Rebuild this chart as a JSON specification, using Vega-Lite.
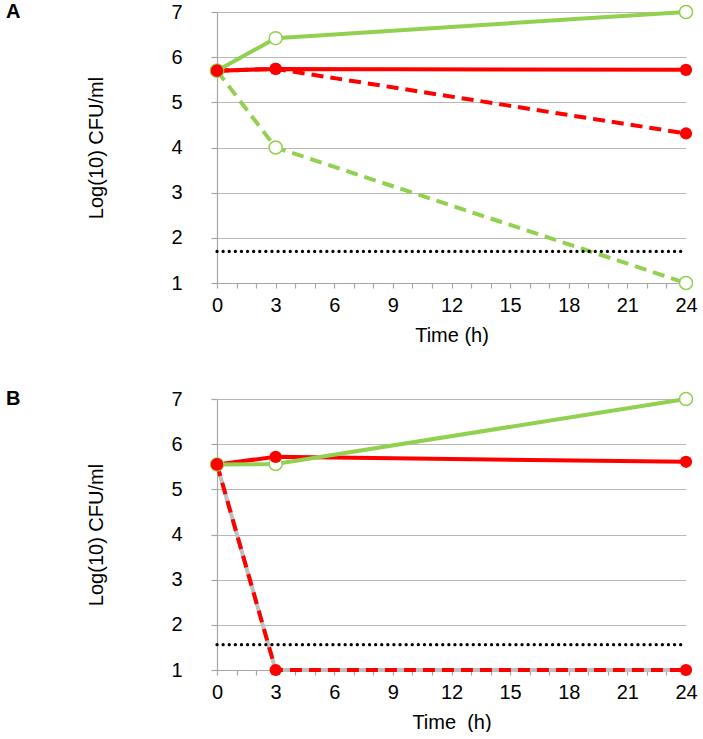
{
  "$schema": "https://vega.github.io/schema/vega-lite/v6.json",
  "padding": {"left": 6, "top": 2, "right": 0, "bottom": 0},
  "background": "white",
  "datasets": {
    "curves": [
      {"panel": "A", "series": "Grey", "time": 0, "value": 5.7},
      {"panel": "A", "series": "Grey", "time": 3, "value": 5.74},
      {"panel": "A", "series": "Red dashed", "time": 0, "value": 5.7},
      {"panel": "A", "series": "Red dashed", "time": 3, "value": 5.74},
      {"panel": "A", "series": "Red dashed", "time": 24, "value": 4.31},
      {"panel": "A", "series": "Red solid", "time": 0, "value": 5.7},
      {"panel": "A", "series": "Red solid", "time": 3, "value": 5.74},
      {"panel": "A", "series": "Red solid", "time": 24, "value": 5.72},
      {"panel": "A", "series": "Green dashed", "time": 0, "value": 5.7},
      {"panel": "A", "series": "Green dashed", "time": 3, "value": 4.0},
      {"panel": "A", "series": "Green dashed", "time": 24, "value": 1.0},
      {"panel": "A", "series": "Green solid", "time": 0, "value": 5.7},
      {"panel": "A", "series": "Green solid", "time": 3, "value": 6.42},
      {"panel": "A", "series": "Green solid", "time": 24, "value": 7.0},
      {"panel": "A", "series": "Detection limit", "time": 0, "value": 1.7},
      {"panel": "A", "series": "Detection limit", "time": 24, "value": 1.7},
      {"panel": "B", "series": "Grey", "time": 0, "value": 5.55},
      {"panel": "B", "series": "Grey", "time": 3, "value": 1.0},
      {"panel": "B", "series": "Grey", "time": 24, "value": 1.0},
      {"panel": "B", "series": "Red dashed", "time": 0, "value": 5.55},
      {"panel": "B", "series": "Red dashed", "time": 3, "value": 1.0},
      {"panel": "B", "series": "Red dashed", "time": 24, "value": 1.0},
      {"panel": "B", "series": "Red solid", "time": 0, "value": 5.55},
      {"panel": "B", "series": "Red solid", "time": 3, "value": 5.72},
      {"panel": "B", "series": "Red solid", "time": 24, "value": 5.61},
      {"panel": "B", "series": "Green solid", "time": 0, "value": 5.55},
      {"panel": "B", "series": "Green solid", "time": 3, "value": 5.56},
      {"panel": "B", "series": "Green solid", "time": 24, "value": 7.0},
      {"panel": "B", "series": "Detection limit", "time": 0, "value": 1.56},
      {"panel": "B", "series": "Detection limit", "time": 24, "value": 1.56}
    ]
  },
  "config": {
    "view": {"stroke": null},
    "font": "Liberation Sans",
    "axis": {
      "labelFont": "Liberation Sans",
      "titleFont": "Liberation Sans",
      "labelFontSize": 20,
      "titleFontSize": 20,
      "titleFontWeight": "normal",
      "labelColor": "black",
      "titleColor": "black",
      "domainColor": "#A6A6A6",
      "tickColor": "#A6A6A6",
      "gridColor": "#B8B8B8",
      "domainWidth": 1.2,
      "tickWidth": 1.2
    },
    "title": {"font": "Liberation Sans", "fontSize": 20, "fontWeight": "bold", "color": "black"}
  },
  "spacing": 44,
  "vconcat": [
    {
      "width": 469,
      "height": 271,
      "title": {"text": "A", "anchor": "start", "frame": "group", "dx": -211, "dy": 24, "baseline": "top"},
      "data": {"name": "curves"},
      "transform": [{"filter": "datum.panel == 'A'"}],
      "encoding": {
        "x": {"field": "time", "type": "quantitative", "scale": {"domain": [0, 24], "nice": false},
          "axis": {"title": "Time (h)", "values": [0,1,2,3,4,5,6,7,8,9,10,11,12,13,14,15,16,17,18,19,20,21,22,23,24],
            "labelExpr": "datum.value % 3 == 0 ? datum.label : ''", "grid": false, "tickSize": 5, "labelPadding": 7, "titlePadding": 10, "labelFlush": false, "labelOverlap": false}},
        "y": {"field": "value", "type": "quantitative", "scale": {"domain": [1, 7], "nice": false},
          "axis": {"title": "Log(10) CFU/ml", "values": [1,2,3,4,5,6,7], "grid": true, "tickSize": 6, "labelPadding": 29, "titlePadding": 64}}
      },
      "layer": [
        {"transform": [{"filter": "datum.series == 'Grey'"}], "mark": {"type": "line", "color": "#BFBFBF", "strokeWidth": 4}},
        {"transform": [{"filter": "datum.series == 'Red dashed'"}], "mark": {"type": "line", "color": "#FF0000", "strokeWidth": 4, "strokeDash": [12, 7]}},
        {"transform": [{"filter": "datum.series == 'Red solid'"}], "mark": {"type": "line", "color": "#FF0000", "strokeWidth": 4}},
        {"transform": [{"filter": "datum.series == 'Green dashed'"}], "mark": {"type": "line", "color": "#92D050", "strokeWidth": 4, "strokeDash": [12, 7]}},
        {"transform": [{"filter": "datum.series == 'Green solid'"}], "mark": {"type": "line", "color": "#92D050", "strokeWidth": 4}},
        {"transform": [{"filter": "datum.series == 'Detection limit'"}], "mark": {"type": "line", "color": "black", "strokeWidth": 3.2, "strokeDash": [0.1, 6], "strokeCap": "round"}},
        {"transform": [{"filter": "datum.series == 'Green dashed' || datum.series == 'Green solid'"}], "mark": {"type": "point", "shape": "circle", "filled": false, "fill": "white", "stroke": "#92D050", "strokeWidth": 1.5, "size": 170, "opacity": 1}},
        {"transform": [{"filter": "datum.series == 'Red dashed' || datum.series == 'Red solid'"}], "mark": {"type": "point", "shape": "circle", "filled": true, "color": "#FF0000", "size": 150, "opacity": 1}}
      ]
    },
    {
      "width": 469,
      "height": 271,
      "title": {"text": "B", "anchor": "start", "frame": "group", "dx": -211, "dy": 24, "baseline": "top"},
      "data": {"name": "curves"},
      "transform": [{"filter": "datum.panel == 'B'"}],
      "encoding": {
        "x": {"field": "time", "type": "quantitative", "scale": {"domain": [0, 24], "nice": false},
          "axis": {"title": "Time\u00a0 (h)", "values": [0,1,2,3,4,5,6,7,8,9,10,11,12,13,14,15,16,17,18,19,20,21,22,23,24],
            "labelExpr": "datum.value % 3 == 0 ? datum.label : ''", "grid": false, "tickSize": 5, "labelPadding": 7, "titlePadding": 10, "labelFlush": false, "labelOverlap": false}},
        "y": {"field": "value", "type": "quantitative", "scale": {"domain": [1, 7], "nice": false},
          "axis": {"title": "Log(10) CFU/ml", "values": [1,2,3,4,5,6,7], "grid": true, "tickSize": 6, "labelPadding": 29, "titlePadding": 64}}
      },
      "layer": [
        {"transform": [{"filter": "datum.series == 'Grey'"}], "mark": {"type": "line", "color": "#BFBFBF", "strokeWidth": 4}},
        {"transform": [{"filter": "datum.series == 'Red dashed'"}], "mark": {"type": "line", "color": "#FF0000", "strokeWidth": 4, "strokeDash": [12, 7]}},
        {"transform": [{"filter": "datum.series == 'Red solid'"}], "mark": {"type": "line", "color": "#FF0000", "strokeWidth": 4}},
        {"transform": [{"filter": "datum.series == 'Green solid'"}], "mark": {"type": "line", "color": "#92D050", "strokeWidth": 4}},
        {"transform": [{"filter": "datum.series == 'Detection limit'"}], "mark": {"type": "line", "color": "black", "strokeWidth": 3.2, "strokeDash": [0.1, 6], "strokeCap": "round"}},
        {"transform": [{"filter": "datum.series == 'Green solid'"}], "mark": {"type": "point", "shape": "circle", "filled": false, "fill": "white", "stroke": "#92D050", "strokeWidth": 1.5, "size": 170, "opacity": 1}},
        {"transform": [{"filter": "datum.series == 'Red dashed' || datum.series == 'Red solid'"}], "mark": {"type": "point", "shape": "circle", "filled": true, "color": "#FF0000", "size": 150, "opacity": 1}}
      ]
    }
  ]
}
